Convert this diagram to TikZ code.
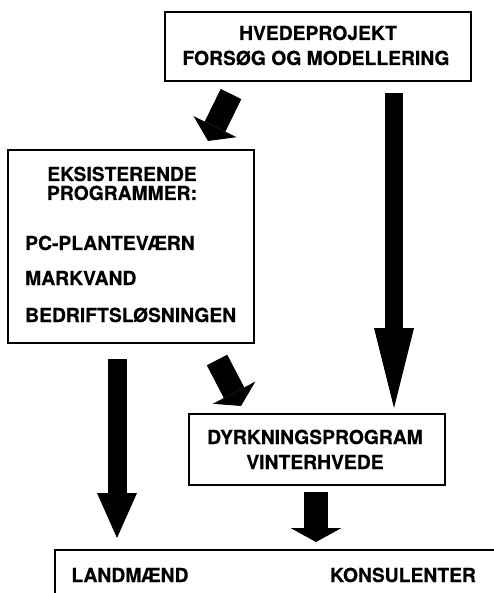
\documentclass[tikz,border=0pt]{standalone}
\usepackage{fontspec}
\setmainfont{TeX Gyre Heros}
\usetikzlibrary{arrows.meta}
\tikzset{
  box/.style={draw, rectangle, line width=2pt, inner sep=0pt},
  lbl/.style={font=\fontsize{19.3}{22}\selectfont\bfseries\addfontfeature{FakeBold=0.4},
    inner sep=0pt, anchor=base},
  fatarrow/.style n args={3}{line width=#1,
    -{Triangle[width=#2, length=#3, line width=0pt]}},
}

\begin{document}
\begin{tikzpicture}[x=1pt, y=-1pt]

  \useasboundingbox (0, 0) rectangle (493, 593);
  % \draw [help lines, step=50] (0, 0) grid (493, 593);

  % boxes
  \node[box, minimum width=306pt, minimum height=69pt] (hvede) at (318, 46.5) {};
  \node[box, minimum width=246pt, minimum height=192pt] (prog) at (131, 246.5) {};
  \node[box, minimum width=256pt, minimum height=71pt] (dyrk) at (316.5, 449.5) {};
  \node[box, anchor=north west, minimum width=480pt, minimum height=80pt] (brugere) at (54, 549) {};

  % texts
  \node[lbl] (hvede1) at (318, 40) {HVEDEPROJEKT};
  \node[lbl] (hvede2) at (316, 65) {FORSØG OG MODELLERING};
  \node[lbl] (prog1) at (122, 181) {EKSISTERENDE};
  \node[lbl] (prog2) at (122, 200) {PROGRAMMER:};
  \node[lbl, anchor=base west] (prog3) at (25, 250) {PC-PLANTEVÆRN};
  \node[lbl, anchor=base west] (prog4) at (25, 285) {MARKVAND};
  \node[lbl, anchor=base west] (prog5) at (25, 322) {BEDRIFTSLØSNINGEN};
  \node[lbl] (dyrk1) at (315, 444) {DYRKNINGSPROGRAM};
  \node[lbl] (dyrk2) at (315, 469) {VINTERHVEDE};
  \node[lbl] (landm) at (130, 582) {LANDMÆND};
  \node[lbl] (konsul) at (403, 582) {KONSULENTER};

  % arrow ends
  \coordinate (a1s) at (231, 94);   \coordinate (a1e) at (208, 141);
  \coordinate (a2s) at (394, 93);   \coordinate (a2e) at (394, 408);
  \coordinate (a3s) at (117, 359);  \coordinate (a3e) at (117, 538);
  \coordinate (a4s) at (217, 360);  \coordinate (a4e) at (241, 406);
  \coordinate (a5s) at (316, 492);  \coordinate (a5e) at (316, 542);

  \draw[fatarrow={23pt}{48pt}{16pt}] (a1s) -- (a1e);
  \draw[fatarrow={18pt}{40pt}{80pt}] (a2s) -- (a2e);
  \draw[fatarrow={19pt}{40pt}{45pt}] (a3s) -- (a3e);
  \draw[fatarrow={23pt}{48pt}{15pt}] (a4s) -- (a4e);
  \draw[fatarrow={24pt}{51pt}{14pt}] (a5s) -- (a5e);

\end{tikzpicture}
\end{document}
